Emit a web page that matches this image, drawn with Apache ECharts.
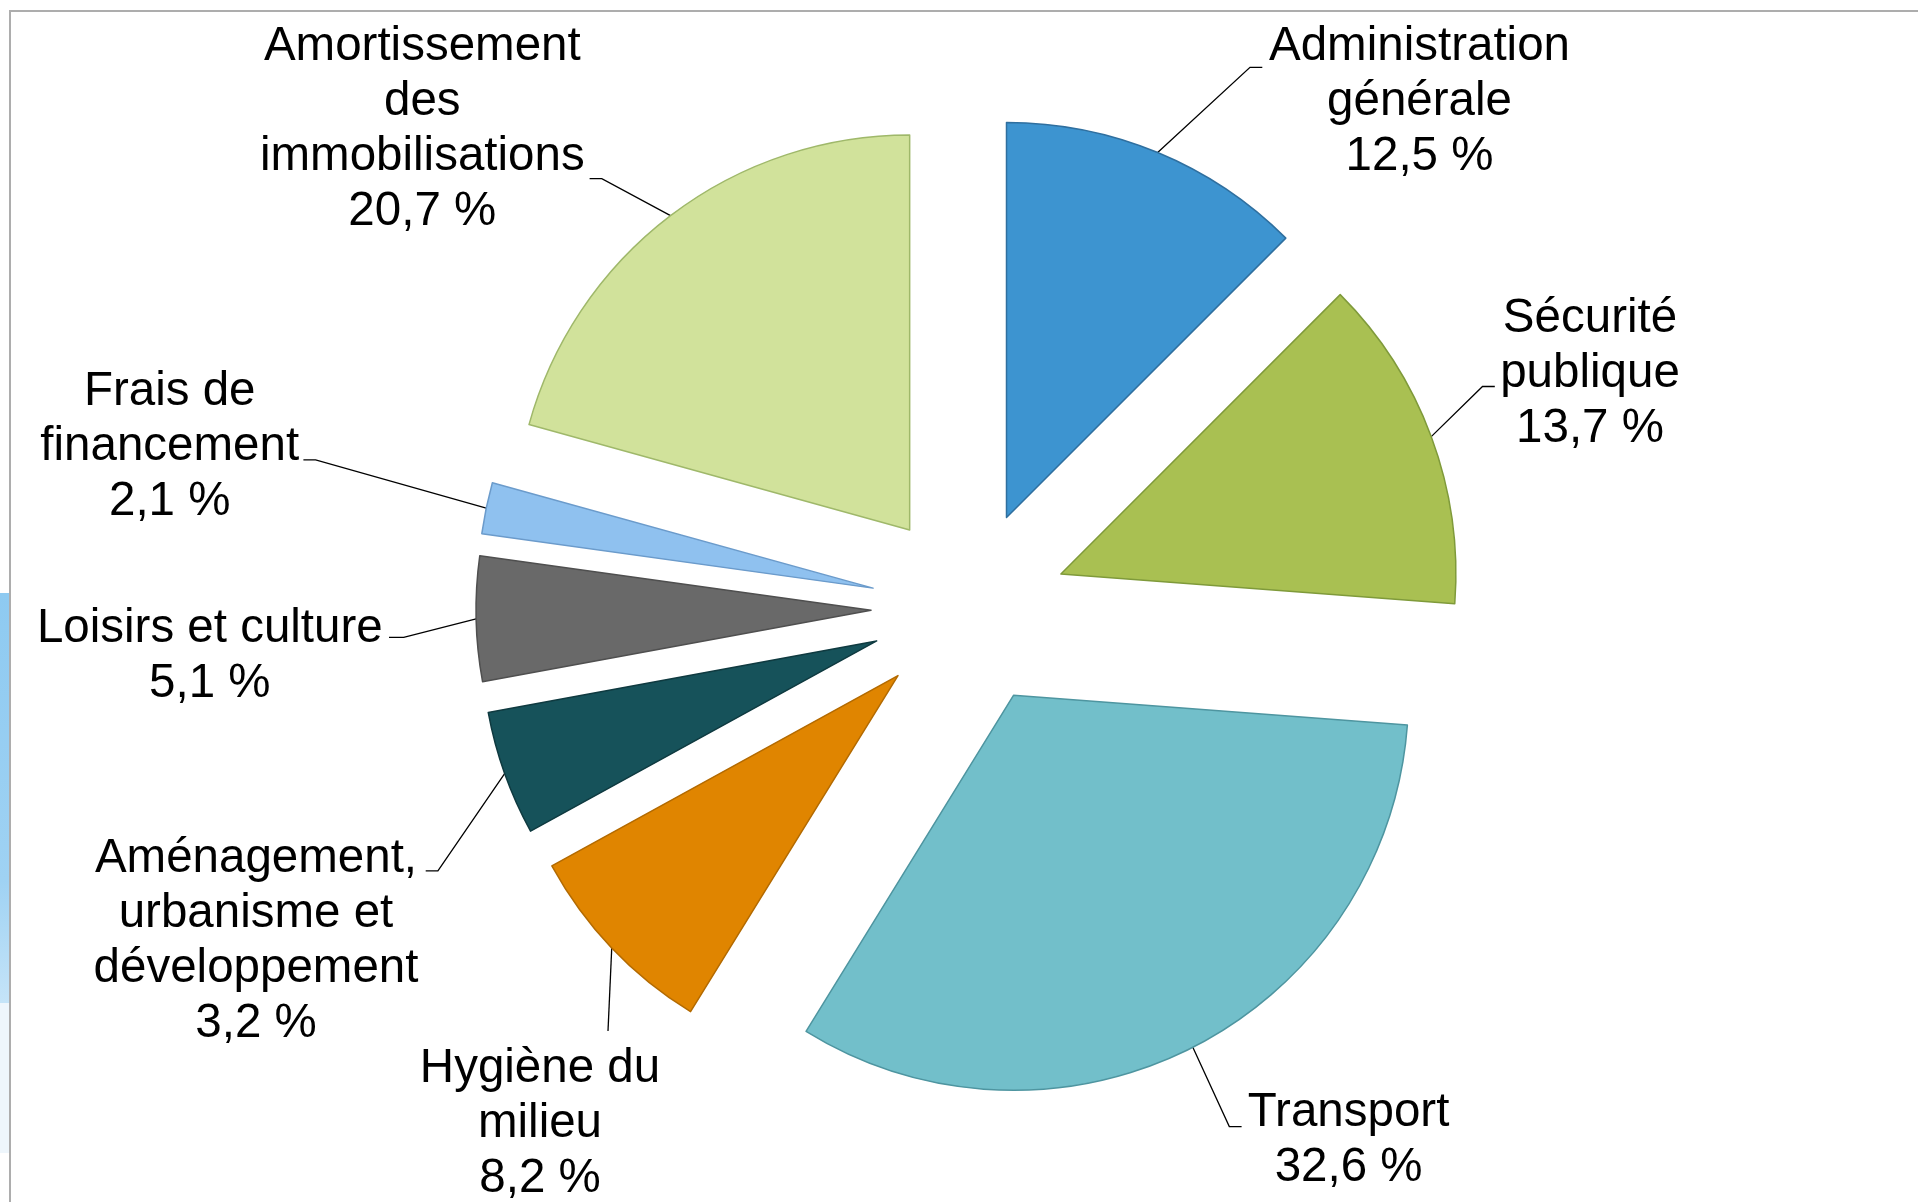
<!DOCTYPE html>
<html><head><meta charset="utf-8">
<script src="https://cdn.jsdelivr.net/npm/echarts@6/dist/echarts.min.js"></script>
<style>html,body{margin:0;padding:0;background:#fff}#chart{width:1918px;height:1202px}</style>
</head><body><div id="chart"></div>
<script>
// ---- data ----
const categories = [
  "Administration\ngénérale",
  "Sécurité\npublique",
  "Transport",
  "Hygiène du\nmilieu",
  "Aménagement,\nurbanisme et\ndéveloppement",
  "Loisirs et culture",
  "Frais de\nfinancement",
  "Amortissement\ndes\nimmobilisations"
];
// percentages printed in the labels
const labelPercents = [12.5, 13.7, 32.6, 8.2, 3.2, 5.1, 2.1, 20.7];
// slice sizes (Aménagement slice is drawn wider than its label)
const sliceShares = [12.5, 13.7, 32.6, 8.2, 5.1, 5.1, 2.1, 20.7];

// ---- styles / layout ----
const colors = ['#3d94d0', '#a9c052', '#72bfca', '#e08500', '#16525a', '#696969', '#8fc1ef', '#d1e29b'];
const borderColors = ['#2f6f9f', '#7f9a3a', '#4e95a0', '#b36a00', '#0f3a40', '#4f4f4f', '#6b9bcb', '#9fb86a'];
const PIE_CX = 969, PIE_CY = 608, PIE_R = 395, EXPLODE = 98;
const LABEL_DY = 2.5;
// [label centre x, label top y, elbow x, elbow y, end x, end y]
const labelBoxes = [
  [1419.5, 16.5, 1250, 67.3, 1262.3, 67.3],
  [1590, 289.3, 1482.5, 386.5, 1494.8, 386.5],
  [1348.6, 1083.2, 1229.3, 1126.6, 1241.6, 1126.6],
  [540, 1039, 608, 1031, 608, 1031],
  [256, 828.7, 437.9, 870.9, 425.7, 870.9],
  [209.8, 598.8, 403.7, 637.3, 389, 637.3],
  [169.7, 361.5, 315.6, 459.9, 303.4, 459.9],
  [422.3, 16.5, 601.8, 178.6, 589.6, 178.6]
];

const fmt = v => v.toFixed(1).replace('.', ',') + ' %';
const total = sliceShares.reduce((a, b) => a + b, 0);
const transparentItem = (val) => ({
  value: val, name: '',
  itemStyle: { color: 'rgba(0,0,0,0)', borderWidth: 0 },
  label: { show: false }, labelLine: { show: false }
});

let cum = 0;
const series = sliceShares.map((v, i) => {
  const before = cum; cum += v;
  const midRad = (before + v / 2) / total * 2 * Math.PI;
  const dx = Math.sin(midRad), dy = -Math.cos(midRad);
  const cx = PIE_CX + EXPLODE * dx, cy = PIE_CY + EXPLODE * dy;
  const lb = labelBoxes[i];
  const startPt = [cx + PIE_R * dx, cy + PIE_R * dy];
  return {
    type: 'pie',
    center: [cx, cy],
    radius: [0, PIE_R],
    startAngle: 90,
    clockwise: true,
    silent: true,
    animation: false,
    avoidLabelOverlap: false,
    emphasis: { disabled: true },
    data: [
      transparentItem(before),
      {
        value: v, name: categories[i],
        itemStyle: { color: colors[i], borderColor: borderColors[i], borderWidth: 1.5 },
        label: {
          show: true, position: 'outside',
          formatter: categories[i] + '\n' + fmt(labelPercents[i]),
          fontFamily: 'Liberation Sans, Arial, sans-serif',
          fontSize: 47.5, lineHeight: 55, color: '#000',
          align: 'center', overflow: 'none'
        },
        labelLine: { show: true, lineStyle: { color: '#000', width: 1.3 } }
      },
      transparentItem(total - before - v)
    ],
    labelLayout: (p) => p.dataIndex === 1 ? {
      x: lb[0], y: lb[1] + LABEL_DY, align: 'center', verticalAlign: 'top',
      labelLinePoints: [startPt, [lb[2], lb[3]], [lb[4], lb[5]]]
    } : {}
  };
});

const chart = echarts.init(document.getElementById('chart'), null, { renderer: 'canvas' });
chart.setOption({
  backgroundColor: '#ffffff',
  animation: false,
  graphic: [
    {
      type: 'rect', silent: true, z: 0,
      shape: { x: 0, y: 593, width: 9, height: 410 },
      style: {
        fill: new echarts.graphic.LinearGradient(0, 0, 0, 1, [
          { offset: 0, color: '#8ecaf1' },
          { offset: 0.7, color: '#9fd2f3' },
          { offset: 1, color: '#c5e4f8' }
        ])
      }
    },
    {
      type: 'rect', silent: true, z: 0,
      shape: { x: 0, y: 1003, width: 9, height: 150 },
      style: { fill: '#eef6fc' }
    },
    {
      type: 'rect', silent: true, z: 1,
      shape: { x: 10, y: 11, width: 2000, height: 2000 },
      style: { fill: 'none', stroke: '#adadad', lineWidth: 2 }
    }
  ],
  series: series
});
</script>
</body></html>
